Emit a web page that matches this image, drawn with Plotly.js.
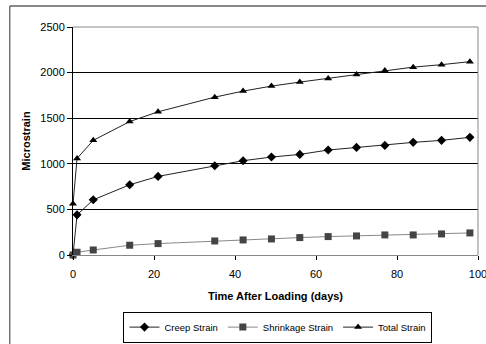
<!DOCTYPE html>
<html>
<head>
<meta charset="utf-8">
<script src="https://cdn.plot.ly/plotly-3.0.1.min.js"></script>
<style>html,body{margin:0;padding:0;background:#fff;}#chart{width:486px;height:344px;}</style>
</head>
<body>
<div id="chart"></div>
<script>
var days = [0, 1, 5, 14, 21, 35, 42, 49, 56, 63, 70, 77, 84, 91, 98];
var creepStrain = [0, 440, 605, 770, 862, 979, 1034, 1074, 1103, 1151, 1180, 1202, 1235, 1257, 1290];
var shrinkageStrain = [0, 30, 55, 107, 125, 154, 165, 176, 191, 202, 209, 220, 220, 231, 242];
var totalStrain = [561, 1059, 1257, 1463, 1570, 1731, 1797, 1852, 1896, 1936, 1980, 2024, 2060, 2087, 2120];
var seriesNames = ["Creep Strain", "Shrinkage Strain", "Total Strain"];
var xTicks = [0, 20, 40, 60, 80, 100];
var yTicks = [0, 500, 1000, 1500, 2000, 2500];

var traces = [
  {x: days, y: creepStrain, name: seriesNames[0], mode: "lines+markers",
   line: {color: "#222", width: 1}, marker: {symbol: "diamond", size: 7, color: "#000"}, cliponaxis: false},
  {x: days, y: shrinkageStrain, name: seriesNames[1], mode: "lines+markers",
   line: {color: "#888", width: 1}, marker: {symbol: "square", size: 7, color: "#444"}, cliponaxis: false},
  {x: days, y: totalStrain, name: seriesNames[2], mode: "lines+markers",
   line: {color: "#222", width: 1}, marker: {symbol: "triangle-up", size: 7, color: "#000"}, cliponaxis: false}
];

var layout = {
  width: 486, height: 344,
  margin: {l: 73, r: 8, t: 27, b: 89},
  paper_bgcolor: "#fff", plot_bgcolor: "#fff",
  font: {family: "Liberation Sans, Arial, sans-serif", size: 11, color: "#000"},
  showlegend: true,
  legend: {orientation: "h", x: 0.572, xref: "container", xanchor: "center",
           y: 0.004, yref: "container", yanchor: "bottom",
           bordercolor: "#000", borderwidth: 1,
           font: {size: 9.5},
           tracegroupgap: 0, itemwidth: 30},
  xaxis: {range: [0, 100], tickvals: xTicks, ticks: "outside", ticklen: 4, tickcolor: "#000",
          showgrid: false, zeroline: false, showline: true, linecolor: "#888", linewidth: 1,
          mirror: false, fixedrange: true, automargin: false, ticklabelstandoff: 5,
          ticklabeloverflow: "allow",
          title: {text: "<b>Time After Loading (days)</b>", font: {size: 11}, standoff: 13}},
  yaxis: {range: [0, 2500], tickvals: yTicks, ticks: "outside", ticklen: 5, tickcolor: "#000",
          showgrid: true, gridcolor: "#000", gridwidth: 1, zeroline: false,
          showline: true, linecolor: "#000", linewidth: 1, fixedrange: true, automargin: false,
          title: {text: "<b>Microstrain</b>", font: {size: 11}, standoff: 7}},
  shapes: [
    {type: "line", xref: "paper", yref: "paper", x0: 1, x1: 1, y0: 0, y1: 1, line: {color: "#888", width: 1}},
    {type: "line", xref: "paper", yref: "paper", x0: 0, x1: 1, y0: 1, y1: 1, line: {color: "#888", width: 1}},
    {type: "line", xref: "paper", yref: "paper", x0: -0.156, x1: 1.1, y0: 1.092, y1: 1.092, line: {color: "#888", width: 2}},
    {type: "line", xref: "paper", yref: "paper", x0: -0.156, x1: -0.156, y0: 1.092, y1: -0.5, line: {color: "#333", width: 1}}
  ]
};

Plotly.newPlot("chart", traces, layout, {displayModeBar: false, staticPlot: true});
</script>
</body>
</html>
